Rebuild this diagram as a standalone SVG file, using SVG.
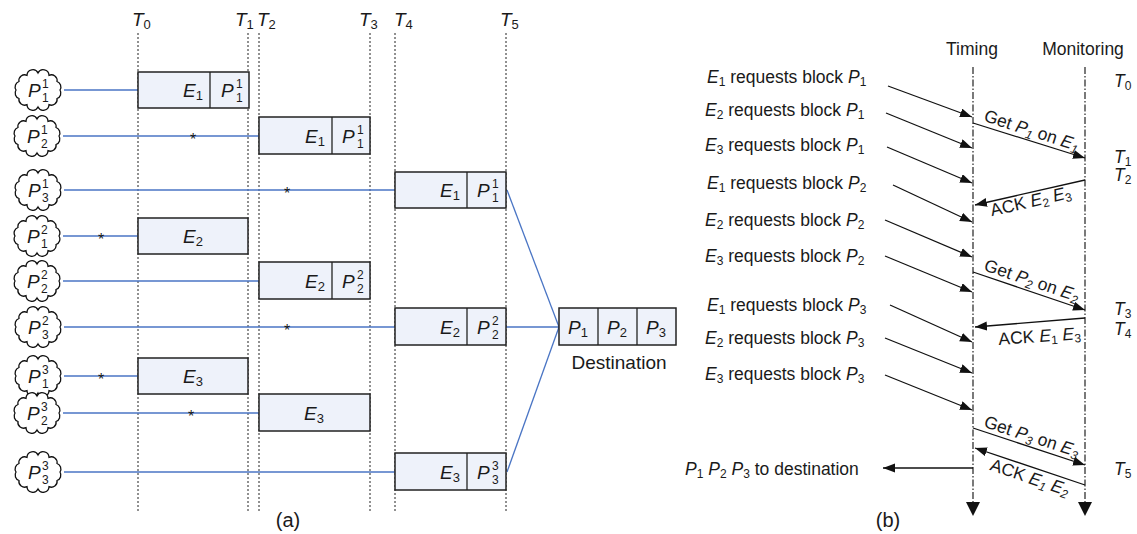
<svg xmlns="http://www.w3.org/2000/svg" width="1137" height="534" viewBox="0 0 1137 534">
<style>
  text { font-family: "Liberation Sans", Arial, sans-serif; fill: #1a1a1a; }
  .lbl { font-size: 19px; }
  .big { font-size: 17.5px; }
  .cap { font-size: 20px; }
  .it { font-style: italic; }
  .sm { font-size: 13px; }
  .sb { font-size: 12px; }
  .tiny { font-size: 12px; }
  .star { font-size: 16px; text-anchor: middle; }
  .cloud { fill: #ffffff; stroke: #111; stroke-width: 1.3; }
  .box { fill: #eef2fa; stroke: #222; stroke-width: 1.5; }
  .div { stroke: #222; stroke-width: 1.3; }
  .tl { stroke: #222; stroke-width: 1; stroke-dasharray: 2 2; fill: none; }
  .blue { stroke: #4a75c4; stroke-width: 1.3; fill: none; }
  .msg { stroke: #111; stroke-width: 1.3; fill: none; marker-end: url(#ah); }
  .life { stroke: #222; stroke-width: 1.2; stroke-dasharray: 7 2 1.5 2; fill: none; }
</style>
<defs>
  <!-- puffy cloud outline: 12 bumps around an ellipse -->
  <path id="cl" d="M-22,0 A5.8,5.8 0 0 1 -19.05,-8.5 A5.8,5.8 0 0 1 -11,-14.7 A5.8,5.8 0 0 1 0,-17 A5.8,5.8 0 0 1 11,-14.7 A5.8,5.8 0 0 1 19.05,-8.5 A5.8,5.8 0 0 1 22,0 A5.8,5.8 0 0 1 19.05,8.5 A5.8,5.8 0 0 1 11,14.7 A5.8,5.8 0 0 1 0,17 A5.8,5.8 0 0 1 -11,14.7 A5.8,5.8 0 0 1 -19.05,8.5 A5.8,5.8 0 0 1 -22,0 Z"/>
  <marker id="ah" markerUnits="userSpaceOnUse" markerWidth="14" markerHeight="10" refX="12" refY="4.5" orient="auto">
    <path d="M0,0 L12,4.5 L0,9 Z" fill="#111"/>
  </marker>
</defs>

<!-- (a) time lines -->
<g id="timelines">
  <line class="tl" x1="138" y1="33" x2="138" y2="512"/>
  <line class="tl" x1="248" y1="33" x2="248" y2="512"/>
  <line class="tl" x1="259" y1="33" x2="259" y2="512"/>
  <line class="tl" x1="370" y1="33" x2="370" y2="512"/>
  <line class="tl" x1="395" y1="33" x2="395" y2="512"/>
  <line class="tl" x1="506" y1="33" x2="506" y2="512"/>
  <text class="lbl" x="132" y="26"><tspan class="it">T</tspan><tspan class="sm" dy="3">0</tspan></text>
  <text class="lbl" x="235" y="26"><tspan class="it">T</tspan><tspan class="sm" dy="3">1</tspan></text>
  <text class="lbl" x="257" y="26"><tspan class="it">T</tspan><tspan class="sm" dy="3">2</tspan></text>
  <text class="lbl" x="359" y="26"><tspan class="it">T</tspan><tspan class="sm" dy="3">3</tspan></text>
  <text class="lbl" x="394" y="26"><tspan class="it">T</tspan><tspan class="sm" dy="3">4</tspan></text>
  <text class="lbl" x="500" y="26"><tspan class="it">T</tspan><tspan class="sm" dy="3">5</tspan></text>
</g>

<!-- (a) connectors -->
<g id="connectors-a">
  <line class="blue" x1="64" y1="90" x2="138" y2="90"/>
  <line class="blue" x1="63" y1="136" x2="259" y2="136"/>
  <line class="blue" x1="64" y1="190" x2="395" y2="190"/>
  <line class="blue" x1="63" y1="236" x2="138" y2="236"/>
  <line class="blue" x1="63" y1="281" x2="259" y2="281"/>
  <line class="blue" x1="64" y1="327" x2="395" y2="327"/>
  <line class="blue" x1="64" y1="376" x2="138" y2="376"/>
  <line class="blue" x1="63" y1="413" x2="259" y2="413"/>
  <line class="blue" x1="64" y1="472" x2="395" y2="472"/>
  <line class="blue" x1="506" y1="327" x2="559" y2="327"/>
  <line class="blue" x1="507" y1="190" x2="559" y2="327"/>
  <line class="blue" x1="507" y1="472" x2="559" y2="327"/>
  <text class="star" x="193" y="145">*</text>
  <text class="star" x="287" y="199">*</text>
  <text class="star" x="101" y="245">*</text>
  <text class="star" x="287" y="336">*</text>
  <text class="star" x="101" y="385">*</text>
  <text class="star" x="191" y="422">*</text>
</g>

<!-- (a) source clouds -->
<g id="cloud-p11" transform="translate(38,90)"><use href="#cl" class="cloud"/>
  <text x="-10" y="7" style="font-size:19px" class="it">P</text><text class="tiny" x="4" y="-2">1</text><text class="tiny" x="4" y="12">1</text></g>
<g id="cloud-p21" transform="translate(37,136)"><use href="#cl" class="cloud"/>
  <text x="-10" y="7" style="font-size:19px" class="it">P</text><text class="tiny" x="4" y="-2">1</text><text class="tiny" x="4" y="12">2</text></g>
<g id="cloud-p31" transform="translate(38,190)"><use href="#cl" class="cloud"/>
  <text x="-10" y="7" style="font-size:19px" class="it">P</text><text class="tiny" x="4" y="-2">1</text><text class="tiny" x="4" y="12">3</text></g>
<g id="cloud-p12" transform="translate(37,236)"><use href="#cl" class="cloud"/>
  <text x="-10" y="7" style="font-size:19px" class="it">P</text><text class="tiny" x="4" y="-2">2</text><text class="tiny" x="4" y="12">1</text></g>
<g id="cloud-p22" transform="translate(37,281)"><use href="#cl" class="cloud"/>
  <text x="-10" y="7" style="font-size:19px" class="it">P</text><text class="tiny" x="4" y="-2">2</text><text class="tiny" x="4" y="12">2</text></g>
<g id="cloud-p32" transform="translate(38,327)"><use href="#cl" class="cloud"/>
  <text x="-10" y="7" style="font-size:19px" class="it">P</text><text class="tiny" x="4" y="-2">2</text><text class="tiny" x="4" y="12">3</text></g>
<g id="cloud-p13" transform="translate(38,376)"><use href="#cl" class="cloud"/>
  <text x="-10" y="7" style="font-size:19px" class="it">P</text><text class="tiny" x="4" y="-2">3</text><text class="tiny" x="4" y="12">1</text></g>
<g id="cloud-p23" transform="translate(37,413)"><use href="#cl" class="cloud"/>
  <text x="-10" y="7" style="font-size:19px" class="it">P</text><text class="tiny" x="4" y="-2">3</text><text class="tiny" x="4" y="12">2</text></g>
<g id="cloud-p33" transform="translate(38,472)"><use href="#cl" class="cloud"/>
  <text x="-10" y="7" style="font-size:19px" class="it">P</text><text class="tiny" x="4" y="-2">3</text><text class="tiny" x="4" y="12">3</text></g>

<!-- (a) execution boxes -->
<g id="box-e1-t0">
  <rect class="box" x="138" y="72" width="111" height="36"/><line class="div" x1="210" y1="72" x2="210" y2="108"/>
  <text class="lbl" x="203" y="97" text-anchor="end"><tspan class="it">E</tspan><tspan class="sm" dy="3">1</tspan></text>
  <text class="lbl it" x="221" y="97">P</text><text class="tiny" x="236" y="88">1</text><text class="tiny" x="236" y="102">1</text>
</g>
<g id="box-e1-t2">
  <rect class="box" x="259" y="117" width="111" height="37"/><line class="div" x1="332" y1="117" x2="332" y2="154"/>
  <text class="lbl" x="325" y="143" text-anchor="end"><tspan class="it">E</tspan><tspan class="sm" dy="3">1</tspan></text>
  <text class="lbl it" x="342" y="143">P</text><text class="tiny" x="357" y="134">1</text><text class="tiny" x="357" y="148">1</text>
</g>
<g id="box-e1-t4">
  <rect class="box" x="395" y="172" width="111" height="36"/><line class="div" x1="467" y1="172" x2="467" y2="208"/>
  <text class="lbl" x="460" y="197" text-anchor="end"><tspan class="it">E</tspan><tspan class="sm" dy="3">1</tspan></text>
  <text class="lbl it" x="477" y="197">P</text><text class="tiny" x="492" y="188">1</text><text class="tiny" x="492" y="202">1</text>
</g>
<g id="box-e2-t0">
  <rect class="box" x="138" y="218" width="110" height="36"/>
  <text class="lbl" x="193" y="243" text-anchor="middle"><tspan class="it">E</tspan><tspan class="sm" dy="3">2</tspan></text>
</g>
<g id="box-e2-t2">
  <rect class="box" x="259" y="262" width="111" height="37"/><line class="div" x1="332" y1="262" x2="332" y2="299"/>
  <text class="lbl" x="325" y="288" text-anchor="end"><tspan class="it">E</tspan><tspan class="sm" dy="3">2</tspan></text>
  <text class="lbl it" x="342" y="288">P</text><text class="tiny" x="357" y="279">2</text><text class="tiny" x="357" y="293">2</text>
</g>
<g id="box-e2-t4">
  <rect class="box" x="395" y="308" width="111" height="37"/><line class="div" x1="467" y1="308" x2="467" y2="345"/>
  <text class="lbl" x="460" y="334" text-anchor="end"><tspan class="it">E</tspan><tspan class="sm" dy="3">2</tspan></text>
  <text class="lbl it" x="477" y="334">P</text><text class="tiny" x="492" y="325">2</text><text class="tiny" x="492" y="339">2</text>
</g>
<g id="box-e3-t0">
  <rect class="box" x="138" y="358" width="110" height="36"/>
  <text class="lbl" x="193" y="383" text-anchor="middle"><tspan class="it">E</tspan><tspan class="sm" dy="3">3</tspan></text>
</g>
<g id="box-e3-t2">
  <rect class="box" x="259" y="394" width="111" height="37"/>
  <text class="lbl" x="314" y="420" text-anchor="middle"><tspan class="it">E</tspan><tspan class="sm" dy="3">3</tspan></text>
</g>
<g id="box-e3-t4">
  <rect class="box" x="395" y="453" width="111" height="37"/><line class="div" x1="467" y1="453" x2="467" y2="490"/>
  <text class="lbl" x="460" y="479" text-anchor="end"><tspan class="it">E</tspan><tspan class="sm" dy="3">3</tspan></text>
  <text class="lbl it" x="477" y="479">P</text><text class="tiny" x="492" y="470">3</text><text class="tiny" x="492" y="484">3</text>
</g>
<g id="destination">
  <rect class="box" x="559" y="308" width="117" height="37"/>
  <line class="div" x1="598" y1="308" x2="598" y2="345"/><line class="div" x1="637" y1="308" x2="637" y2="345"/>
  <text class="lbl" x="578" y="334" text-anchor="middle"><tspan class="it">P</tspan><tspan class="sm" dy="3">1</tspan></text>
  <text class="lbl" x="617" y="334" text-anchor="middle"><tspan class="it">P</tspan><tspan class="sm" dy="3">2</tspan></text>
  <text class="lbl" x="656" y="334" text-anchor="middle"><tspan class="it">P</tspan><tspan class="sm" dy="3">3</tspan></text>
  <text class="lbl" x="619" y="369" text-anchor="middle">Destination</text>
</g>
<text class="cap" x="288" y="527" text-anchor="middle">(a)</text>

<!-- (b) lifelines -->
<g id="lifeline-timing">
  <line class="life" x1="973" y1="67" x2="973" y2="503"/>
  <polygon points="966,502 980,502 973,516" fill="#111"/>
  <text class="big" x="972" y="55" text-anchor="middle">Timing</text>
</g>
<g id="lifeline-monitoring">
  <line class="life" x1="1085" y1="67" x2="1085" y2="503"/>
  <polygon points="1078,502 1092,502 1085,516" fill="#111"/>
  <text class="big" x="1083" y="55" text-anchor="middle">Monitoring</text>
</g>

<!-- (b) request labels -->
<g id="requests">
  <text class="big" x="707" y="83"><tspan class="it">E</tspan><tspan class="sb" dy="3">1</tspan><tspan dy="-3"> requests block </tspan><tspan class="it">P</tspan><tspan class="sb" dy="3">1</tspan></text>
  <text class="big" x="705" y="116"><tspan class="it">E</tspan><tspan class="sb" dy="3">2</tspan><tspan dy="-3"> requests block </tspan><tspan class="it">P</tspan><tspan class="sb" dy="3">1</tspan></text>
  <text class="big" x="705" y="151"><tspan class="it">E</tspan><tspan class="sb" dy="3">3</tspan><tspan dy="-3"> requests block </tspan><tspan class="it">P</tspan><tspan class="sb" dy="3">1</tspan></text>
  <text class="big" x="707" y="189"><tspan class="it">E</tspan><tspan class="sb" dy="3">1</tspan><tspan dy="-3"> requests block </tspan><tspan class="it">P</tspan><tspan class="sb" dy="3">2</tspan></text>
  <text class="big" x="705" y="226"><tspan class="it">E</tspan><tspan class="sb" dy="3">2</tspan><tspan dy="-3"> requests block </tspan><tspan class="it">P</tspan><tspan class="sb" dy="3">2</tspan></text>
  <text class="big" x="705" y="262"><tspan class="it">E</tspan><tspan class="sb" dy="3">3</tspan><tspan dy="-3"> requests block </tspan><tspan class="it">P</tspan><tspan class="sb" dy="3">2</tspan></text>
  <text class="big" x="707" y="311"><tspan class="it">E</tspan><tspan class="sb" dy="3">1</tspan><tspan dy="-3"> requests block </tspan><tspan class="it">P</tspan><tspan class="sb" dy="3">3</tspan></text>
  <text class="big" x="705" y="344"><tspan class="it">E</tspan><tspan class="sb" dy="3">2</tspan><tspan dy="-3"> requests block </tspan><tspan class="it">P</tspan><tspan class="sb" dy="3">3</tspan></text>
  <text class="big" x="705" y="380"><tspan class="it">E</tspan><tspan class="sb" dy="3">3</tspan><tspan dy="-3"> requests block </tspan><tspan class="it">P</tspan><tspan class="sb" dy="3">3</tspan></text>
  <text class="big" x="685" y="475"><tspan class="it">P</tspan><tspan class="sb" dy="3">1</tspan><tspan dy="-3"> </tspan><tspan class="it">P</tspan><tspan class="sb" dy="3">2</tspan><tspan dy="-3"> </tspan><tspan class="it">P</tspan><tspan class="sb" dy="3">3</tspan><tspan dy="-3"> to destination</tspan></text>
</g>

<!-- (b) time marks -->
<g id="marks-b">
  <text class="big" x="1114" y="87"><tspan class="it">T</tspan><tspan class="sb" dy="3">0</tspan></text>
  <text class="big" x="1114" y="163"><tspan class="it">T</tspan><tspan class="sb" dy="3">1</tspan></text>
  <text class="big" x="1114" y="181"><tspan class="it">T</tspan><tspan class="sb" dy="3">2</tspan></text>
  <text class="big" x="1114" y="315"><tspan class="it">T</tspan><tspan class="sb" dy="3">3</tspan></text>
  <text class="big" x="1114" y="335"><tspan class="it">T</tspan><tspan class="sb" dy="3">4</tspan></text>
  <text class="big" x="1114" y="475"><tspan class="it">T</tspan><tspan class="sb" dy="3">5</tspan></text>
</g>

<!-- (b) messages -->
<g id="connectors-b">
  <line class="msg" x1="888" y1="86" x2="972" y2="117"/>
  <line class="msg" x1="886" y1="113" x2="972" y2="148"/>
  <line class="msg" x1="887" y1="147" x2="972" y2="183"/>
  <line class="msg" x1="893" y1="185" x2="972" y2="222"/>
  <line class="msg" x1="885" y1="220" x2="972" y2="257"/>
  <line class="msg" x1="885" y1="256" x2="972" y2="292"/>
  <line class="msg" x1="890" y1="305" x2="972" y2="342"/>
  <line class="msg" x1="885" y1="338" x2="972" y2="373"/>
  <line class="msg" x1="885" y1="375" x2="972" y2="410"/>

  <line class="msg" x1="973" y1="123" x2="1085" y2="158"/>
  <line class="msg" x1="1085" y1="180" x2="975" y2="205"/>
  <line class="msg" x1="973" y1="272" x2="1085" y2="310"/>
  <line class="msg" x1="1085" y1="318" x2="975" y2="327"/>
  <line class="msg" x1="973" y1="428" x2="1085" y2="465"/>
  <line class="msg" x1="1085" y1="485" x2="975" y2="448"/>
  <line class="msg" x1="973" y1="468" x2="883" y2="468"/>

  <text class="big" transform="translate(1030,136) rotate(18)" text-anchor="middle">Get <tspan class="it">P</tspan><tspan class="sb it" dy="3">1</tspan><tspan dy="-3"> on </tspan><tspan class="it">E</tspan><tspan class="sb it" dy="3">1</tspan></text>
  <text class="big" transform="translate(1032,207) rotate(-13)" text-anchor="middle">ACK <tspan class="it">E</tspan><tspan class="sb" dy="3">2</tspan><tspan dy="-3"> </tspan><tspan class="it">E</tspan><tspan class="sb" dy="3">3</tspan></text>
  <text class="big" transform="translate(1030,286) rotate(18.5)" text-anchor="middle">Get <tspan class="it">P</tspan><tspan class="sb it" dy="3">2</tspan><tspan dy="-3"> on </tspan><tspan class="it">E</tspan><tspan class="sb it" dy="3">2</tspan></text>
  <text class="big" transform="translate(1040,342) rotate(-4)" text-anchor="middle">ACK <tspan class="it">E</tspan><tspan class="sb" dy="3">1</tspan><tspan dy="-3"> </tspan><tspan class="it">E</tspan><tspan class="sb" dy="3">3</tspan></text>
  <text class="big" transform="translate(1030,442) rotate(18)" text-anchor="middle">Get <tspan class="it">P</tspan><tspan class="sb it" dy="3">3</tspan><tspan dy="-3"> on </tspan><tspan class="it">E</tspan><tspan class="sb it" dy="3">3</tspan></text>
  <text class="big" transform="translate(1028,483) rotate(18.6)" text-anchor="middle">ACK <tspan class="it">E</tspan><tspan class="sb it" dy="3">1</tspan><tspan dy="-3"> </tspan><tspan class="it">E</tspan><tspan class="sb it" dy="3">2</tspan></text>
</g>
<text class="cap" x="888" y="527" text-anchor="middle">(b)</text>
</svg>
